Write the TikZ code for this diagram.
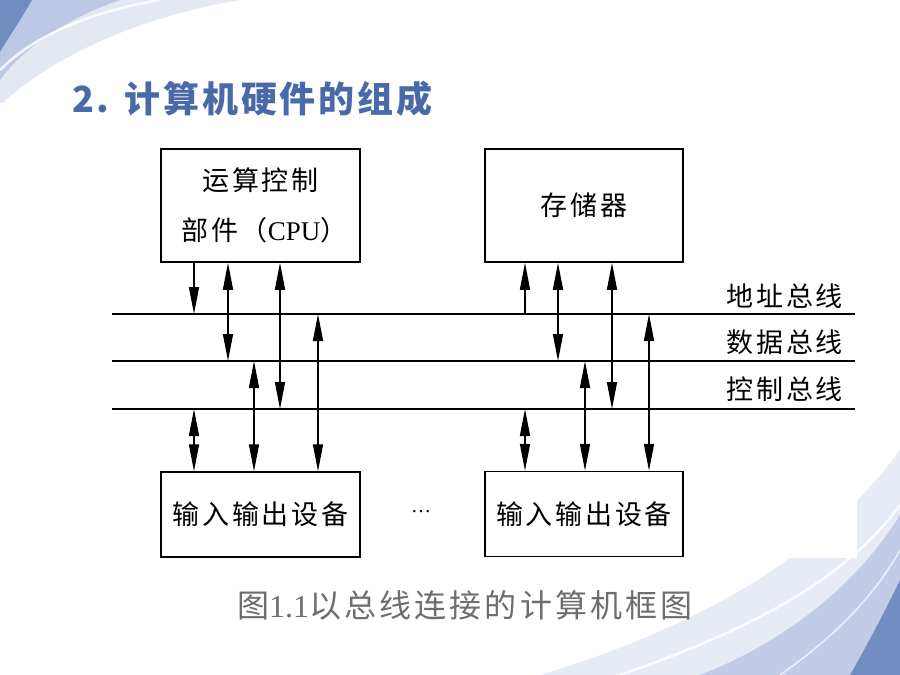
\documentclass[tikz,border=0pt]{standalone}
\usepackage{fontspec}
\usetikzlibrary{arrows.meta}
\setmainfont{Liberation Serif}
\newfontfamily\cjk{Noto Sans CJK SC}[LetterSpace=10]
\newfontfamily\cjkcap{Noto Sans CJK SC}[LetterSpace=10]
\newfontfamily\cjktitle{Noto Sans CJK SC}[LetterSpace=8]
\definecolor{titleblue}{HTML}{4A69A8}
\definecolor{capgray}{HTML}{6E6E6E}
\definecolor{decodark}{HTML}{6682BC}
\definecolor{decomid}{HTML}{A3B5DA}
\definecolor{decolight}{HTML}{DCE3F1}
\begin{document}
\begin{tikzpicture}[x=1pt,y=-1pt,
  box/.style={draw=black, line width=1.5pt, minimum width=199pt, minimum height=113pt,
    inner sep=0pt, align=center, font=\cjk\fontsize{27}{50}\selectfont},
  iobox/.style={box, minimum height=85pt},
  bus/.style={line width=1.5pt},
  arr/.style={line width=1.5pt, -{Triangle[length=27pt,width=10pt]}},
  darr/.style={line width=1.5pt, {Triangle[length=27pt,width=10pt]}-{Triangle[length=27pt,width=10pt]}},
  buslabel/.style={anchor=east, inner sep=0pt, font=\cjk\fontsize{27}{30}\selectfont}
]
\fill[white] (0,0) rectangle (900,675);
\useasboundingbox (0,0) rectangle (900,675);

% decoration top-left
\fill[decolight, opacity=.8] (0,0) -- (240,0) .. controls (150,15) and (60,50) .. (0,105) -- cycle;
\fill[decomid, opacity=.6] (0,0) -- (120,0) .. controls (75,15) and (25,45) .. (0,80) -- cycle;
\fill[decodark, opacity=.85] (0,0) -- (32,0) .. controls (22,18) and (10,35) .. (0,52) -- cycle;
\draw[white, line width=2.5pt, opacity=.85] (0,70) .. controls (35,35) and (90,12) .. (160,0);
\draw[white, line width=1.5pt, opacity=.7] (15,100) .. controls (60,60) and (140,25) .. (235,5);

% decoration bottom-right
\fill[decolight, opacity=.7] (540,675) .. controls (690,630) and (820,560) .. (900,450) -- (900,675) -- cycle;
\fill[decomid, opacity=.55] (700,675) .. controls (790,640) and (860,580) .. (900,515) -- (900,675) -- cycle;
\fill[decodark, opacity=.85] (850,675) .. controls (870,640) and (888,605) .. (900,580) -- (900,675) -- cycle;
\draw[white, line width=2.5pt, opacity=.85] (620,675) .. controls (750,630) and (845,580) .. (900,505);
\draw[white, line width=1.5pt, opacity=.7] (780,675) .. controls (830,640) and (872,600) .. (900,550);

% pasted picture area
\fill[white] (0,103) rectangle (857,558);

% title
\node[anchor=base west, inner sep=0pt, text=titleblue,
  font=\cjktitle\bfseries\fontsize{36}{40}\selectfont] (title) at (72,112) {2. 计算机硬件的组成};

% boxes
\node[box] (cpu) at (260.5,205.5) {运算控制\\\hspace*{8pt}部件（{\rmfamily CPU}）};
\node[box, minimum width=198pt] (mem) at (584,205.5) {存储器};
\node[iobox] (io1) at (260.5,514.5) {输入输出设备};
\node[iobox, minimum width=198pt] (io2) at (584,514) {输入输出设备};
\node[inner sep=0pt, font=\rmfamily\fontsize{20}{24}\selectfont] (dots) at (421,512) {…};

% buses
\coordinate (aL) at (112,314); \coordinate (aR) at (855,314);
\coordinate (dL) at (112,361); \coordinate (dR) at (855,361);
\coordinate (cL) at (112,409); \coordinate (cR) at (855,409);
\draw[bus] (aL) -- (aR);
\draw[bus] (dL) -- (dR);
\draw[bus] (cL) -- (cR);

\node[buslabel] (la) at (843,296) {地址总线};
\node[buslabel] (ld) at (843,342) {数据总线};
\node[buslabel] (lc) at (843,389) {控制总线};

% CPU side
\coordinate (p1) at (194,314);
\coordinate (p2) at (228,361);
\coordinate (p3) at (280,409);
\coordinate (p4) at (318,314);
\coordinate (p5) at (254,361);
\coordinate (p6) at (194,409);
\draw[arr] (cpu.south -| p1) -- (p1);
\draw[darr] (cpu.south -| p2) -- (p2);
\draw[darr] (cpu.south -| p3) -- (p3);
\draw[darr] (p4) -- (io1.north -| p4);
\draw[darr] (p5) -- (io1.north -| p5);
\draw[darr] (p6) -- (io1.north -| p6);

% memory side
\coordinate (m1) at (525,314);
\coordinate (m2) at (558,361);
\coordinate (m3) at (612,409);
\coordinate (m4) at (649,314);
\coordinate (m5) at (585,361);
\coordinate (m6) at (525,409);
\draw[arr] (m1) -- (mem.south -| m1);
\draw[darr] (mem.south -| m2) -- (m2);
\draw[darr] (mem.south -| m3) -- (m3);
\draw[darr] (m4) -- (io2.north -| m4);
\draw[darr] (m5) -- (io2.north -| m5);
\draw[darr] (m6) -- (io2.north -| m6);

% caption
\node[inner sep=0pt, text=capgray, font=\cjkcap\fontsize{32}{36}\selectfont] (cap) at (465,605)
  {图{\rmfamily 1.1}以总线连接的计算机框图};
\end{tikzpicture}
\end{document}
